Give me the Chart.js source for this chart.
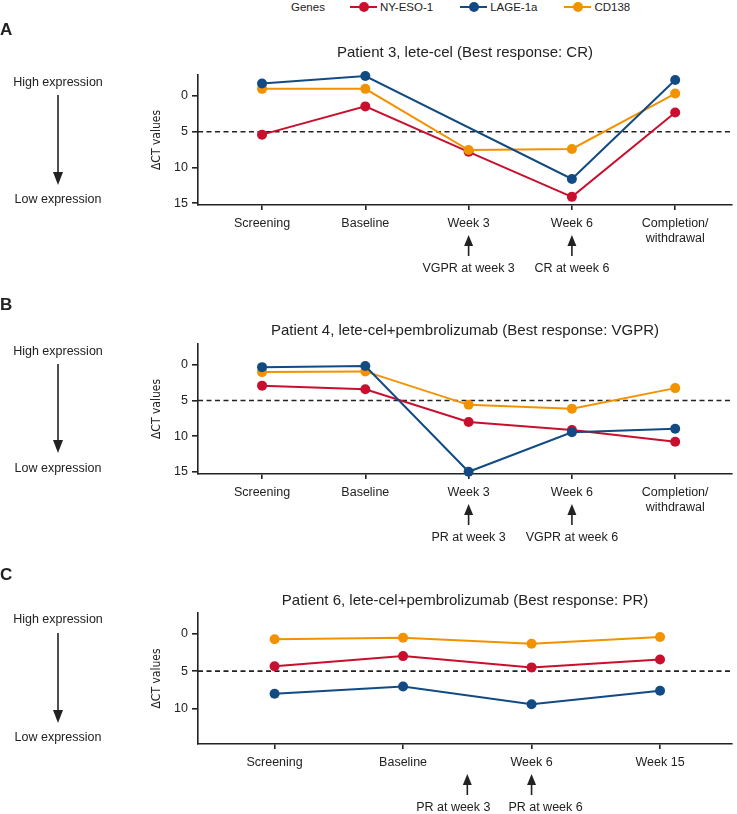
<!DOCTYPE html>
<html>
<head>
<meta charset="utf-8">
<script src="https://cdn.jsdelivr.net/npm/chart.js@4.4.0/dist/chart.umd.min.js"></script>
<style>
  body { margin: 0; background: #fff; }
  #page { position: relative; width: 737px; height: 814px; overflow: hidden;
          font-family: "Liberation Sans", Arial, sans-serif; color: #222; }
  canvas { position: absolute; left: 0; }
  .txt { position: absolute; transform: translateY(-50%); white-space: nowrap; font-size: 12.5px; }
  .side { left: 0; width: 116px; text-align: center; }
  .letter { left: 0; font-weight: bold; font-size: 17px; }
  .downArrow { position: absolute; left: 52px; }
  #legend { position: absolute; left: 291px; top: 7px; transform: translateY(-50%);
            display: flex; align-items: center; font-size: 11.5px; }
  #legend .item { display: flex; align-items: center; margin-right: 27px; }
  #legend .mark { position: relative; width: 27px; height: 10px; margin-right: 3px; }
  #legend .mark i { position: absolute; left: 0; right: 0; top: 4px; height: 2px; }
  #legend .mark b { position: absolute; left: 9px; top: 0; width: 10px; height: 10px; border-radius: 50%; }
</style>
</head>
<body>
<div id="page">
  <div id="legend"></div>
  <canvas id="chartA" width="737" height="250" style="top:30px"></canvas>
  <canvas id="chartB" width="737" height="250" style="top:299px"></canvas>
  <canvas id="chartC" width="737" height="246" style="top:568px"></canvas>
</div>
<script>
// genes (legend order)
const genes = ['NY-ESO-1', 'LAGE-1a', 'CD138'];
const geneColors = ['#c8102e', '#124a84', '#f39200'];
const yTicks = [0, 5, 10, 15];
const cutoff = 5;

// A - patient 3
const titleA = 'Patient 3, lete-cel (Best response: CR)';
const visitsA = ['Screening', 'Baseline', 'Week 3', 'Week 6', ['Completion/', 'withdrawal']];
const nyEsoA = [5.4, 1.45, 7.8, 14.1, 2.3];
const lageA = [-1.75, -2.8, null, 11.6, -2.25];
const cd138A = [-1.0, -1.0, 7.55, 7.4, -0.35];
const responseTextA = ['VGPR at week 3', 'CR at week 6'];
const responseAtA = [2, 3];

// B - patient 4
const titleB = 'Patient 4, lete-cel+pembrolizumab (Best response: VGPR)';
const visitsB = ['Screening', 'Baseline', 'Week 3', 'Week 6', ['Completion/', 'withdrawal']];
const nyEsoB = [2.9, 3.4, 8.0, 9.15, 10.8];
const lageB = [0.3, 0.15, 15.0, 9.45, 8.95];
const cd138B = [1.0, 0.9, 5.6, 6.15, 3.25];
const responseTextB = ['PR at week 3', 'VGPR at week 6'];
const responseAtB = [2, 3];

// C - patient 6 (no week 3 sample, PR arrow sits between Baseline and Week 6)
const titleC = 'Patient 6, lete-cel+pembrolizumab (Best response: PR)';
const visitsC = ['Screening', 'Baseline', 'Week 6', 'Week 15'];
const nyEsoC = [4.35, 3.0, 4.5, 3.45];
const lageC = [8.0, 7.05, 9.4, 7.6];
const cd138C = [0.75, 0.55, 1.35, 0.45];
const responseTextC = ['PR at week 3', 'PR at week 6'];
const responseAtC = [1.5, 2];

const FONT = '"Liberation Sans", Arial, sans-serif';
const INK = '#222';
Chart.defaults.font.family = FONT;
Chart.defaults.color = INK;

// dashed cut-off line at dCT = 5
const cutoffLine = {
    id: 'cutoffLine',
    beforeDatasetsDraw(chart) {
        const { ctx, chartArea } = chart;
        const y = chart.scales.y.getPixelForValue(cutoff);
        ctx.save();
        ctx.strokeStyle = INK;
        ctx.lineWidth = 1.6;
        ctx.setLineDash([5, 3.5]);
        ctx.beginPath();
        ctx.moveTo(chartArea.left, y);
        ctx.lineTo(chartArea.right, y);
        ctx.stroke();
        ctx.restore();
    }
};

// arrows + response text under the x axis
const responseArrows = {
    id: 'responseArrows',
    afterDraw(chart, args, opts) {
        const { ctx, chartArea } = chart;
        opts.at.forEach((v, i) => {
            const x = chart.scales.x.getPixelForValue(v);
            const tip = chartArea.bottom + 30;
            const base = chartArea.bottom + 51;
            ctx.save();
            ctx.strokeStyle = INK;
            ctx.fillStyle = INK;
            ctx.lineWidth = 1.6;
            ctx.beginPath();
            ctx.moveTo(x, base);
            ctx.lineTo(x, tip + 8);
            ctx.stroke();
            ctx.beginPath();
            ctx.moveTo(x, tip);
            ctx.lineTo(x - 4.5, tip + 11);
            ctx.lineTo(x + 4.5, tip + 11);
            ctx.closePath();
            ctx.fill();
            ctx.font = '12.5px ' + FONT;
            ctx.textAlign = 'center';
            ctx.textBaseline = 'middle';
            // labels in panel C are pushed apart so they don't collide
            const shift = opts.shift ? opts.shift[i] : 0;
            ctx.fillText(opts.text[i], x + shift, chartArea.bottom + 64);
            ctx.restore();
        });
    }
};

function makePanel(id, cfg) {
    const series = [cfg.nyEso, cfg.lage, cfg.cd138];
    // blue on top, then orange, red at the bottom
    const drawOrder = [2, 0, 1];
    const datasets = series.map((vals, i) => ({
        label: genes[i],
        data: vals.map((v, k) => ({ x: k, y: v })),
        borderColor: geneColors[i],
        backgroundColor: geneColors[i],
        borderWidth: 2,
        pointRadius: 5,
        pointHoverRadius: 5,
        pointBorderWidth: 0,
        spanGaps: true,
        clip: false,
        order: drawOrder[i]
    }));

    new Chart(document.getElementById(id), {
        type: 'line',
        data: { datasets },
        plugins: [cutoffLine, responseArrows],
        options: {
            responsive: false,
            animation: false,
            devicePixelRatio: 1,
            layout: { padding: { left: 140, right: 1, top: cfg.padTop, bottom: 0 } },
            scales: {
                x: {
                    type: 'linear',
                    min: cfg.xMin,
                    max: cfg.xMax,
                    afterBuildTicks: (axis) => {
                        axis.ticks = cfg.visits.map((_, k) => ({ value: k }));
                    },
                    afterFit: (axis) => {
                        axis.height = cfg.xAxisHeight;
                        axis.paddingLeft = 0;
                        axis.paddingRight = 0;
                    },
                    ticks: {
                        autoSkip: false,
                        maxRotation: 0,
                        padding: 6,
                        font: { size: 12.5 },
                        callback: (v) => cfg.visits[v]
                    },
                    grid: { drawOnChartArea: false, tickLength: 5, color: INK, lineWidth: 1.6 },
                    border: { color: INK, width: 1.6 }
                },
                y: {
                    reverse: true,
                    min: cfg.yMin,
                    max: cfg.yMax,
                    afterBuildTicks: (axis) => {
                        axis.ticks = yTicks.filter(v => v <= cfg.yMax).map(v => ({ value: v }));
                    },
                    afterFit: (axis) => { axis.width = 58; },
                    ticks: { padding: 4, font: { size: 12.5 } },
                    grid: { drawOnChartArea: false, tickLength: 6, color: INK, lineWidth: 1.6 },
                    border: { color: INK, width: 1.6 },
                    title: {
                        display: true,
                        text: 'ΔCT values',
                        font: { family: '"Liberation Sans Narrow", "DejaVu Sans Condensed", Arial, sans-serif', size: 12 },
                        padding: { top: 10, bottom: 0 }
                    }
                }
            },
            plugins: {
                legend: { display: false },
                tooltip: { enabled: false },
                title: {
                    display: true,
                    text: cfg.title,
                    fullSize: false,
                    color: INK,
                    font: { size: 15, weight: 'normal' },
                    padding: { top: 0, bottom: cfg.titleGap }
                },
                responseArrows: { at: cfg.responseAt, text: cfg.responseText, shift: cfg.textShift }
            }
        }
    });
}

// html bits: legend, panel letters, high/low expression side notes
function buildDecor() {
    const page = document.getElementById('page');
    const legend = document.getElementById('legend');
    legend.innerHTML = '<span style="margin-right:25px">Genes</span>' + genes.map((g, i) =>
        `<span class="item"><span class="mark"><i style="background:${geneColors[i]}"></i>` +
        `<b style="background:${geneColors[i]}"></b></span>${g}</span>`).join('');

    const panels = [
        { letter: 'A', letterY: 30, high: 82, low: 199, a0: 95, a1: 185 },
        { letter: 'B', letterY: 305, high: 351, low: 468, a0: 364, a1: 453 },
        { letter: 'C', letterY: 575, high: 619, low: 737, a0: 633, a1: 723 }
    ];
    panels.forEach(p => {
        page.insertAdjacentHTML('beforeend',
            `<div class="txt letter" style="top:${p.letterY}px">${p.letter}</div>` +
            `<div class="txt side" style="top:${p.high}px">High expression</div>` +
            `<div class="txt side" style="top:${p.low}px">Low expression</div>` +
            `<svg class="downArrow" style="top:${p.a0}px" width="12" height="${p.a1 - p.a0}">` +
            `<line x1="6" y1="0" x2="6" y2="${p.a1 - p.a0 - 8}" stroke="${INK}" stroke-width="1.6"/>` +
            `<polygon points="1,${p.a1 - p.a0 - 13} 11,${p.a1 - p.a0 - 13} 6,${p.a1 - p.a0}" fill="${INK}"/></svg>`);
    });
}

document.addEventListener('DOMContentLoaded', function () {
    buildDecor();
    makePanel('chartA', {
        title: titleA, visits: visitsA, nyEso: nyEsoA, lage: lageA, cd138: cd138A,
        responseAt: responseAtA, responseText: responseTextA,
        padTop: 14, titleGap: 13,
        xMin: -0.62, xMax: 4.55, yMin: -2.94, yMax: 15.24, xAxisHeight: 75
    });
    makePanel('chartB', {
        title: titleB, visits: visitsB, nyEso: nyEsoB, lage: lageB, cd138: cd138B,
        responseAt: responseAtB, responseText: responseTextB,
        padTop: 23, titleGap: 4,
        xMin: -0.62, xMax: 4.55, yMin: -2.95, yMax: 15.32, xAxisHeight: 75
    });
    makePanel('chartC', {
        title: titleC, visits: visitsC, nyEso: nyEsoC, lage: lageC, cd138: cd138C,
        responseAt: responseAtC, responseText: responseTextC, textShift: [-14, 14],
        padTop: 24, titleGap: 3,
        xMin: -0.596, xMax: 3.56, yMin: -2.73, yMax: 14.68, xAxisHeight: 70
    });
});
</script>
</body>
</html>
